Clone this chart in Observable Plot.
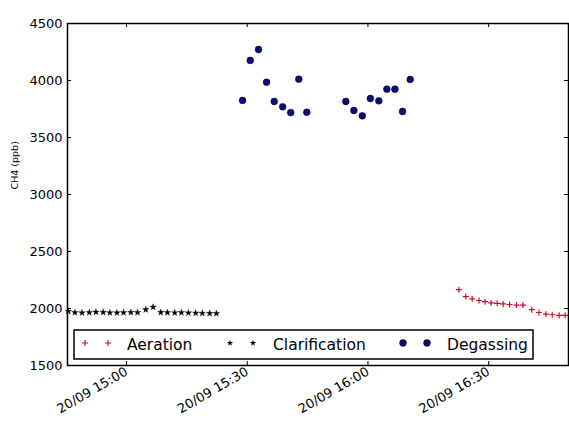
<!DOCTYPE html>
<html><head><meta charset="utf-8">
<script src="https://cdn.jsdelivr.net/npm/d3@7"></script>
<script src="https://cdn.jsdelivr.net/npm/@observablehq/plot@0.6"></script>
<style>body{margin:0;background:#fff;} #chart{width:569px;height:425px;}</style>
</head><body><div id="chart"></div>
<script>
const day = "2016-09-20";

const aerationTimes = ["16:22:36","16:24:18","16:25:54","16:27:36","16:29:06","16:30:36","16:32:06","16:33:36","16:35:12","16:36:54","16:38:30","16:40:42","16:42:30","16:44:12","16:45:48","16:47:30","16:49:00"];
const aerationValues = [2165,2105,2085,2070,2060,2050,2045,2040,2035,2030,2030,1990,1965,1950,1945,1940,1940];

const clarificationTimes = ["14:45:32","14:47:11","14:48:56","14:50:45","14:52:24","14:54:13","14:55:52","14:57:36","14:59:16","15:01:04","15:02:44","15:04:47","15:06:37","15:08:31","15:10:10","15:11:59","15:13:38","15:15:22","15:17:11","15:18:50","15:20:40","15:22:19"];
const clarificationValues = [1975,1965,1962,1965,1968,1966,1963,1962,1964,1966,1965,1990,2012,1966,1964,1963,1965,1962,1960,1958,1957,1956];

const degassingTimes = ["15:28:50","15:30:45","15:32:48","15:34:48","15:36:42","15:38:48","15:40:48","15:42:48","15:44:48","15:54:30","15:56:30","15:58:36","16:00:36","16:02:42","16:04:42","16:06:42","16:08:36","16:10:30"];
const degassingValues = [3825,4176,4272,3985,3816,3769,3719,4012,3722,3816,3737,3690,3842,3822,3924,3924,3728,4009];

const yTicks = [1500,2000,2500,3000,3500,4000,4500];
const xTicks = ["15:00:00","15:30:00","16:00:00","16:30:00"];
const xDomain = ["14:45:20","16:49:50"];
const yDomain = [1500,4500];
const seriesNames = ["Aeration","Clarification","Degassing"];
const yLabel = "CH4 (ppb)";

const toDate = t => new Date(`${day}T${t}Z`);
const rows = (times, values) => times.map((t, i) => ({time: toDate(t), value: values[i]}));
const aeration = rows(aerationTimes, aerationValues);
const clarification = rows(clarificationTimes, clarificationValues);
const degassing = rows(degassingTimes, degassingValues);
const xTickDates = xTicks.map(toDate);

const plusSymbol = {draw(ctx, size) {const r = Math.sqrt(size / Math.PI); ctx.moveTo(-r, 0); ctx.lineTo(r, 0); ctx.moveTo(0, -r); ctx.lineTo(0, r);}};

const RED = "#c8102e", NAVY = "#0b0b7a";
const H = 425, MT = 23, MB = 60, ML = 67, MR = 1;
const ph = H - MT - MB, pw = 569 - ML - MR, tl = 4;

const plot = Plot.plot({
  width: 569, height: H,
  marginLeft: ML, marginRight: MR, marginTop: MT, marginBottom: MB,
  style: {fontFamily: "DejaVu Sans", fontSize: "13px", color: "black", background: "white", overflow: "visible"},
  x: {type: "utc", domain: xDomain.map(toDate)},
  y: {domain: yDomain},
  marks: [
    Plot.dot(aeration, {x: "time", y: "value", symbol: plusSymbol, r: 3, stroke: RED, strokeWidth: 1.2, fill: "none"}),
    Plot.dot(clarification, {x: "time", y: "value", symbol: "star", r: 2, fill: "black", stroke: "black", strokeWidth: 0.4}),
    Plot.dot(degassing, {x: "time", y: "value", r: 3.4, fill: NAVY, stroke: "black", strokeWidth: 0.5}),
    Plot.frame({stroke: "black", strokeWidth: 1.5}),
    Plot.tickX(xTickDates, {x: d => d, insetTop: ph - tl, stroke: "black", strokeWidth: 1}),
    Plot.tickX(xTickDates, {x: d => d, insetBottom: ph - tl, stroke: "black", strokeWidth: 1}),
    Plot.tickY(yTicks, {y: d => d, insetRight: pw - tl, stroke: "black", strokeWidth: 1}),
    Plot.tickY(yTicks, {y: d => d, insetLeft: pw - tl, stroke: "black", strokeWidth: 1}),
    Plot.axisX({ticks: xTickDates, tickSize: 0, tickPadding: 5, tickRotate: -30, tickFormat: d3.utcFormat("%d/%m %H:%M"), label: null}),
    Plot.axisY({ticks: yTicks, tickSize: 0, tickPadding: 5, tickFormat: d => String(d), label: null}),
    Plot.text([yLabel], {frameAnchor: "left", dx: -53, dy: -5, rotate: -90, fontSize: 9.5})
  ]
});

// legend inside the axes (lower area), as in the reference
const svg = d3.select(plot);
const lg = svg.append("g").attr("font-family", "DejaVu Sans").attr("font-size", "15.5px").attr("text-anchor", "start");
lg.append("rect").attr("x", 74).attr("y", 330).attr("width", 459).attr("height", 29)
  .attr("fill", "white").attr("stroke", "black").attr("stroke-width", 1.5);
const my = 343;
const items = [
  {name: seriesNames[0], mx: [85,108], tx: 127, kind: "plus"},
  {name: seriesNames[1], mx: [230,253], tx: 273, kind: "star"},
  {name: seriesNames[2], mx: [403,427], tx: 447, kind: "dot"}
];
for (const it of items) {
  for (const mx of it.mx) {
    if (it.kind === "plus") {
      lg.append("path").attr("d", `M${mx-3},${my}h6M${mx},${my-3}v6`).attr("stroke", RED).attr("stroke-width", 1.2).attr("fill", "none");
    } else if (it.kind === "star") {
      lg.append("path").attr("d", d3.symbol(d3.symbolStar, Math.PI * 2 * 2)()).attr("transform", `translate(${mx},${my})`).attr("fill", "black");
    } else {
      lg.append("circle").attr("cx", mx).attr("cy", my).attr("r", 3.4).attr("fill", NAVY).attr("stroke", "black").attr("stroke-width", 0.5);
    }
  }
  lg.append("text").attr("x", it.tx).attr("y", 349.5).attr("fill", "black").attr("text-anchor", "start").text(it.name);
}

document.getElementById("chart").appendChild(plot);
</script>
</body></html>
